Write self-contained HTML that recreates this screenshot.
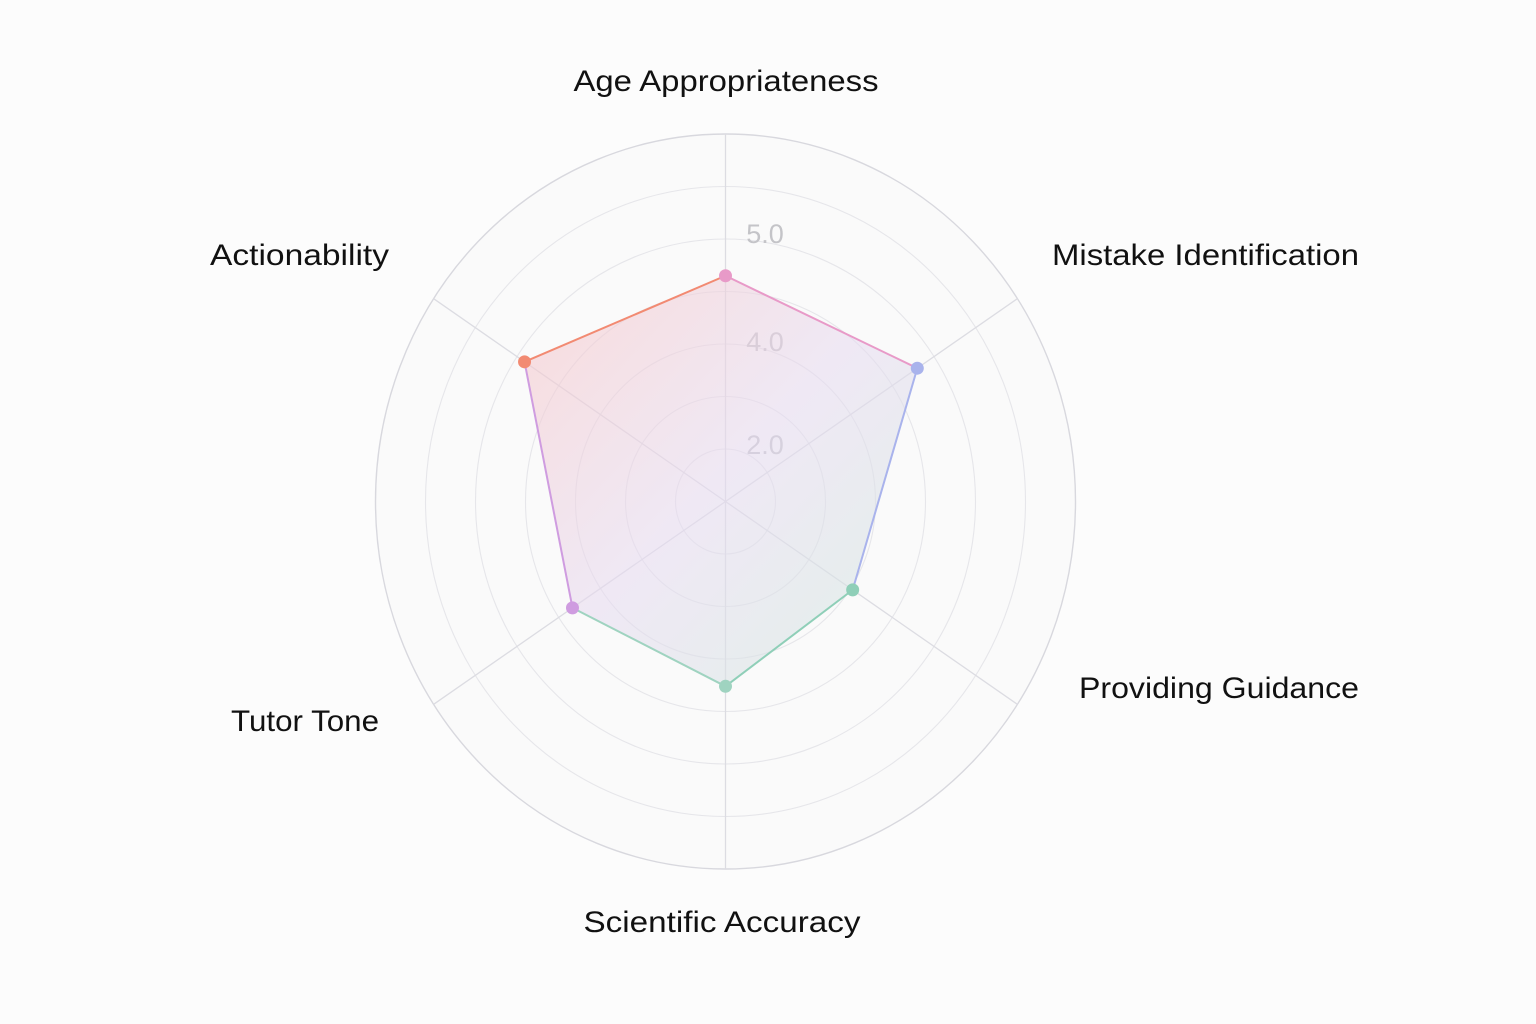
<!DOCTYPE html>
<html><head><meta charset="utf-8"><style>
html,body{margin:0;padding:0;background:#fcfcfc;}
svg{display:block;font-family:"Liberation Sans",sans-serif;}
</style></head><body>
<svg width="1536" height="1024" viewBox="0 0 1536 1024">
<defs>
<linearGradient id="fillGrad" x1="0" y1="0" x2="1" y2="1">
<stop offset="0" stop-color="#f9c6c6" stop-opacity="0.6"/>
<stop offset="0.5" stop-color="#e6daf0" stop-opacity="0.55"/>
<stop offset="1" stop-color="#cfeadc" stop-opacity="0.6"/>
</linearGradient>
</defs>
<g id="grid"></g>
<g id="series"></g>
<g id="labels"></g>
</svg>
<script>
const categories = ["Age Appropriateness","Mistake Identification","Providing Guidance","Scientific Accuracy","Tutor Tone","Actionability"];
const values = [4.3, 4.6, 3.05, 3.52, 3.67, 4.82];
const tickLabels = ["2.0","4.0","5.0"];
const pointColors = ["#e89ac8","#a9b3ec","#8fcfb8","#9fd3c0","#cf9ce0","#f28a72"];

const NS="http://www.w3.org/2000/svg";
const cx=725.5, cy=501.5, ux=50, uy=52.5, maxV=7;
const angles=[-90,-33.5,33.5,90,146.5,213.5];
const labelPos=[[726,81,"middle",305],[1052,255,"start",307],[1359,688,"end",280],[722,922,"middle",277],[379,721,"end",148],[389,255,"end",179]];
const tickPos=[[765,454],[765,351],[765,243]];
function pt(i,v){const a=angles[i]*Math.PI/180;return [cx+v*ux*Math.cos(a),cy+v*uy*Math.sin(a)];}
function mk(tag,attrs,parent){const e=document.createElementNS(NS,tag);for(const k in attrs)e.setAttribute(k,attrs[k]);parent.appendChild(e);return e;}
const grid=document.getElementById('grid'),series=document.getElementById('series'),labels=document.getElementById('labels');
const bg=mk('ellipse',{cx:cx,cy:cy,rx:ux*maxV,ry:uy*maxV,fill:'#fafafa',stroke:'#d8d8de','stroke-width':1.4},grid);


for(let k=1;k<maxV;k++){
  const c=mk('ellipse',{cx:cx,cy:cy,rx:ux*k,ry:uy*k,fill:'none',stroke:'#e6e6ea','stroke-width':1.1},grid);
  
  
}
categories.forEach((c,i)=>{
  const p=pt(i,maxV);
  const l=mk('line',{x1:cx,y1:cy,x2:p[0],y2:p[1],stroke:'#dcdce2','stroke-width':1.3},grid);
  
  
});
tickLabels.forEach((t,i)=>{
  const e=mk('text',{x:tickPos[i][0],y:tickPos[i][1],'text-anchor':'middle','font-size':27,fill:'#c4c4c8'},grid);
  e.textContent=t;
  
  
});
const pts=values.map((v,i)=>pt(i,v));
const poly=mk('polygon',{points:pts.map(p=>p.join(',')).join(' '),fill:'url(#fillGrad)',stroke:'none'},series);


pts.forEach((p,i)=>{
  const q=pts[(i+1)%pts.length];
  const s=mk('line',{x1:p[0],y1:p[1],x2:q[0],y2:q[1],stroke:pointColors[i],'stroke-width':2},series);
  
  
});
pts.forEach((p,i)=>{
  const d=mk('circle',{cx:p[0],cy:p[1],r:6.5,fill:pointColors[i]},series);
  
  
});
categories.forEach((c,i)=>{
  const e=mk('text',{x:labelPos[i][0],y:labelPos[i][1]+10,'text-anchor':labelPos[i][2],'font-size':30,fill:'#111',textLength:labelPos[i][3],lengthAdjust:'spacingAndGlyphs'},labels);
  e.textContent=c;
  
  
});
</script>
</body></html>
